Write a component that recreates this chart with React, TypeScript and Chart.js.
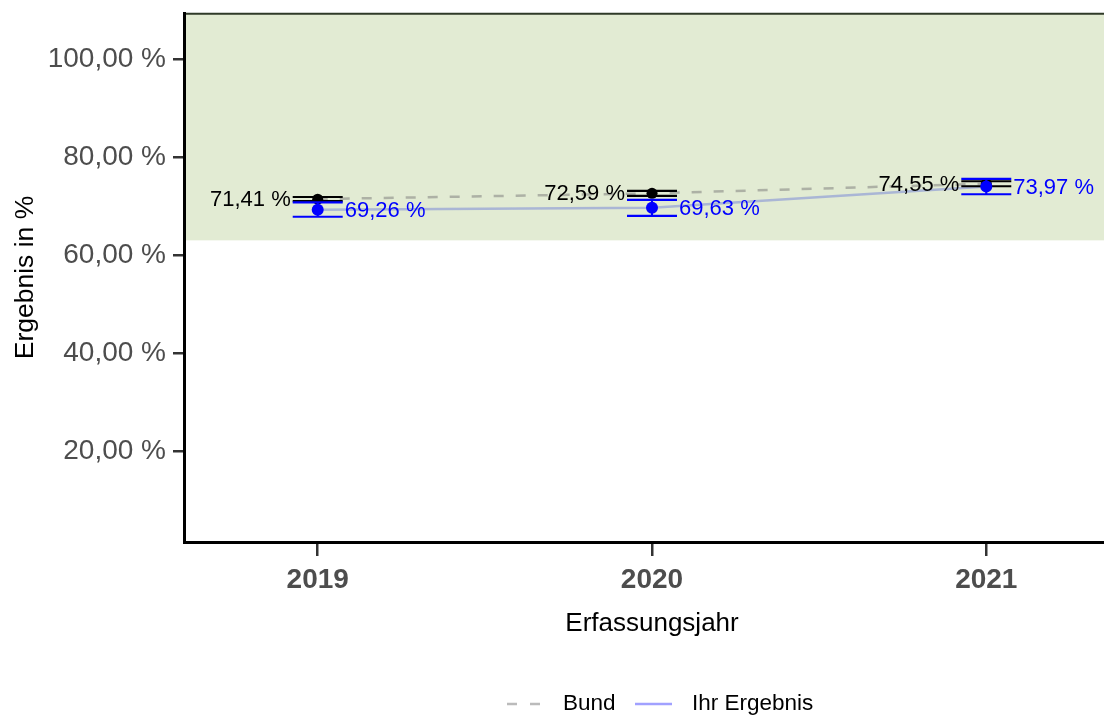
import React, { useEffect, useRef } from 'react';
import { Chart, registerables } from 'chart.js';

Chart.register(...registerables);

// ---- data ----
const years = [2019, 2020, 2021];
const bundValues = [71.41, 72.59, 74.55];
const bundLower = [71.0, 72.08, 74.04];
const bundUpper = [71.85, 73.1, 75.06];
const ihrValues = [69.26, 69.63, 73.97];
const ihrLower = [67.8, 68.0, 72.4];
const ihrUpper = [70.75, 71.25, 75.55];
const yTickValues = [20, 40, 60, 80, 100];
const referenceThreshold = 63;
const yRange = [1.43, 109.4];
const xRange = [2018.6, 2021.4];
const legendLabels = ['Bund', 'Ihr Ergebnis'];
const xTitle = 'Erfassungsjahr';
const yTitle = 'Ergebnis in %';

// ---- styles ----
const FONT = "'Liberation Sans', Arial, Helvetica, sans-serif";
const BAND_COLOR = '#e2ebd3';
const BUND_LINE = 'rgba(120,120,120,0.5)';
const IHR_LINE = 'rgba(40,60,220,0.3)';
const BUND_DASH = [10, 12];

const fmt = (v: number) => v.toFixed(2).replace('.', ',') + ' %';

function drawErrorBars(chart: any, lower: number[], upper: number[], color: string) {
  const { ctx, scales } = chart;
  const xs = scales.x;
  const ys = scales.y;
  ctx.save();
  ctx.strokeStyle = color;
  ctx.lineWidth = 2.1;
  const half = 25;
  years.forEach((yr, i) => {
    const x = xs.getPixelForValue(yr);
    const yl = ys.getPixelForValue(lower[i]);
    const yu = ys.getPixelForValue(upper[i]);
    ctx.beginPath();
    ctx.moveTo(x - half, yl);
    ctx.lineTo(x + half, yl);
    ctx.moveTo(x - half, yu);
    ctx.lineTo(x + half, yu);
    ctx.moveTo(x, yl);
    ctx.lineTo(x, yu);
    ctx.stroke();
  });
  ctx.restore();
}

const customPlugin = {
  id: 'qiCustom',
  beforeDraw(chart: any) {
    const { ctx, chartArea, scales } = chart;
    const yb = scales.y.getPixelForValue(referenceThreshold);
    ctx.save();
    ctx.fillStyle = BAND_COLOR;
    ctx.fillRect(chartArea.left, chartArea.top, chartArea.right - chartArea.left, yb - chartArea.top);
    ctx.strokeStyle = '#2f3a28';
    ctx.lineWidth = 2;
    ctx.beginPath();
    ctx.moveTo(chartArea.left, chartArea.top + 0.7);
    ctx.lineTo(chartArea.right, chartArea.top + 0.7);
    ctx.stroke();
    ctx.restore();
  },
  beforeDatasetDraw(chart: any, args: any) {
    if (args.index === 2) drawErrorBars(chart, bundLower, bundUpper, '#000000');
    if (args.index === 3) drawErrorBars(chart, ihrLower, ihrUpper, '#0000ff');
  },
  afterDatasetsDraw(chart: any) {
    const { ctx, scales } = chart;
    ctx.save();
    ctx.font = `22px ${FONT}`;
    ctx.textBaseline = 'middle';
    years.forEach((yr, i) => {
      const x = scales.x.getPixelForValue(yr);
      ctx.fillStyle = '#000000';
      ctx.textAlign = 'right';
      ctx.fillText(fmt(bundValues[i]), x - 27, scales.y.getPixelForValue(bundValues[i]) + 1);
      ctx.fillStyle = '#0000ff';
      ctx.textAlign = 'left';
      ctx.fillText(fmt(ihrValues[i]), x + 27, scales.y.getPixelForValue(ihrValues[i]) + 1.5);
    });
    ctx.restore();
  },
  afterDraw(chart: any) {
    const { ctx } = chart;
    const ly = 704;
    ctx.save();
    ctx.lineWidth = 2.5;
    ctx.strokeStyle = BUND_LINE;
    ctx.setLineDash([10, 13]);
    ctx.beginPath();
    ctx.moveTo(507, ly);
    ctx.lineTo(540, ly);
    ctx.stroke();
    ctx.setLineDash([]);
    ctx.strokeStyle = 'rgba(0,0,255,0.37)';
    ctx.beginPath();
    ctx.moveTo(635, ly);
    ctx.lineTo(672, ly);
    ctx.stroke();
    ctx.font = `22.5px ${FONT}`;
    ctx.fillStyle = '#000000';
    ctx.textAlign = 'left';
    ctx.textBaseline = 'middle';
    ctx.fillText(legendLabels[0], 563, ly);
    ctx.fillText(legendLabels[1], 692, ly);
    ctx.restore();
  },
};

export default function App() {
  const ref = useRef<HTMLCanvasElement | null>(null);

  useEffect(() => {
    if (!ref.current) return;
    const chart = new Chart(ref.current, {
      type: 'scatter',
      data: {
        datasets: [
          {
            label: legendLabels[0],
            data: years.map((x, i) => ({ x, y: bundValues[i] })),
            showLine: true,
            borderColor: BUND_LINE,
            borderWidth: 2.5,
            borderDash: BUND_DASH,
            pointRadius: 0,
            order: 4,
          },
          {
            label: legendLabels[1],
            data: years.map((x, i) => ({ x, y: ihrValues[i] })),
            showLine: true,
            borderColor: IHR_LINE,
            borderWidth: 2.5,
            pointRadius: 0,
            order: 3,
          },
          {
            label: 'Bund Punkte',
            data: years.map((x, i) => ({ x, y: bundValues[i] })),
            backgroundColor: '#000000',
            borderWidth: 0,
            pointRadius: 5.5,
            order: 2,
          },
          {
            label: 'Ihr Ergebnis Punkte',
            data: years.map((x, i) => ({ x, y: ihrValues[i] })),
            backgroundColor: '#0000ff',
            borderWidth: 0,
            pointRadius: 6,
            order: 1,
          },
        ],
      },
      options: {
        animation: false,
        responsive: false,
        layout: { autoPadding: false, padding: { top: 13, left: 0, right: 0, bottom: 0 } },
        plugins: { legend: { display: false }, tooltip: { enabled: false } },
        scales: {
          x: {
            type: 'linear',
            position: 'bottom',
            min: xRange[0],
            max: xRange[1],
            afterBuildTicks: (s: any) => {
              s.ticks = years.map((v) => ({ value: v }));
            },
            afterFit: (s: any) => {
              s.height = 174;
              s.paddingLeft = 0;
              s.paddingRight = 0;
            },
            grid: { drawOnChartArea: false, drawTicks: true, tickLength: 14, color: '#333333', lineWidth: 2.5 },
            border: { display: true, color: '#000000', width: 3 },
            ticks: {
              padding: 7,
              color: '#4d4d4d',
              autoSkip: false,
              maxRotation: 0,
              font: { family: FONT, size: 28, weight: 'bold' },
              callback: (v: any) => String(v),
            },
            title: {
              display: true,
              text: xTitle,
              color: '#000000',
              font: { family: FONT, size: 26 },
              padding: { top: 0, bottom: 77 },
            },
          },
          y: {
            type: 'linear',
            min: yRange[0],
            max: yRange[1],
            afterBuildTicks: (s: any) => {
              s.ticks = yTickValues.map((v) => ({ value: v }));
            },
            afterFit: (s: any) => {
              s.width = 184;
              s.paddingTop = 0;
              s.paddingBottom = 0;
            },
            grid: { drawOnChartArea: false, drawTicks: true, tickLength: 11, color: '#333333', lineWidth: 2.5 },
            border: { display: true, color: '#000000', width: 3 },
            ticks: {
              padding: 7,
              color: '#4d4d4d',
              font: { family: FONT, size: 28 },
              callback: (v: any) => fmt(Number(v)),
            },
            title: {
              display: true,
              text: yTitle,
              color: '#000000',
              font: { family: FONT, size: 26.5 },
              padding: { top: 10, bottom: 0 },
            },
          },
        },
      },
      plugins: [customPlugin],
    } as any);
    return () => chart.destroy();
  }, []);

  return (
    <div
      style={{
        position: 'fixed',
        left: 0,
        top: 0,
        width: 1104,
        height: 716,
        overflow: 'hidden',
        background: '#ffffff',
      }}
    >
      <canvas ref={ref} width={1120} height={716} style={{ display: 'block' }} />
    </div>
  );
}
